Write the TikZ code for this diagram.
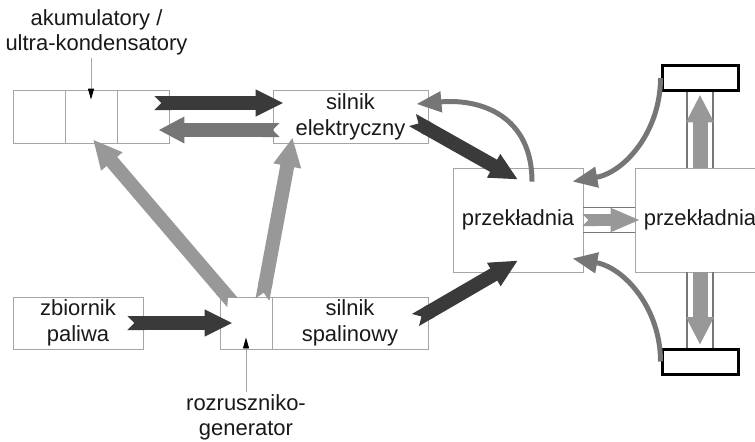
\documentclass[tikz,border=0pt]{standalone}
\usepackage{fontspec}
\setmainfont{Liberation Sans}
\usetikzlibrary{arrows.meta}

\definecolor{hvdark}{RGB}{58, 58, 58}
\definecolor{hvmid}{RGB}{118, 118, 118}
\definecolor{hvlight}{RGB}{152, 152, 152}
\definecolor{hvframe}{RGB}{165, 165, 165}
\definecolor{hvtext}{RGB}{25, 25, 25}

\begin{document}
\begin{tikzpicture}[
  x=1cm,
  y=1cm,
  cell/.style={draw=hvframe, line width=0.5pt, minimum height=1.06cm, inner sep=0pt,
    font=\fontsize{12.5}{15}\selectfont, text=hvtext, align=center},
  wheel/.style={draw=black, line width=1.7pt, minimum width=1.52cm, minimum height=0.5cm, inner sep=0pt},
  caption/.style={font=\fontsize{12.5}{14.5}\selectfont, text=hvtext, align=center, inner sep=1pt},
  pointer/.style={draw=hvframe, line width=0.5pt, -{Triangle[width=0.12cm, length=0.22cm, color=black]}},
  axle/.style={draw=hvmid, line width=0.8pt},
  fatdark/.style={draw=hvdark, line width=0.28cm, {Triangle Cap[reversed]}-{Triangle[width=0.5cm, length=0.56cm]}},
  fatmid/.style={draw=hvmid, line width=0.28cm, {Triangle Cap[reversed]}-{Triangle[width=0.5cm, length=0.52cm]}},
  fatlight/.style={draw=hvlight, line width=0.28cm, {Triangle Cap[reversed]}-{Triangle[width=0.52cm, length=0.58cm]}},
  curvemid/.style={draw=hvmid, line width=0.1cm, -{Triangle[width=0.4cm, length=0.5cm]}},
  shaftarrow/.style={draw=hvlight, line width=0.24cm, {Triangle Cap[reversed]}-{Triangle[width=0.44cm, length=0.6cm]}},
  axlearrow/.style={draw=hvlight, line width=0.3cm, -{Triangle[width=0.52cm, length=0.56cm]}}
]
  \useasboundingbox (0, 0) rectangle (15.1, 8.82);
  \clip (0, 0) rectangle (15.1, 8.82);

  % Storage and motors
  \node[cell, minimum width=1.04cm] (bat1) at (0.78, 6.49) {};
  \node[cell, minimum width=1.04cm] (bat2) at (1.82, 6.49) {};
  \node[cell, minimum width=1.04cm] (bat3) at (2.86, 6.49) {};
  \node[cell, minimum width=3.10cm] (elec) at (7.01, 6.49) {silnik\\elektryczny};

  \node[cell, minimum width=2.60cm, minimum height=1.04cm] (tank) at (1.56, 2.36) {zbiornik\\paliwa};
  \node[cell, minimum width=1.04cm, minimum height=1.04cm] (gen) at (4.92, 2.36) {};
  \node[cell, minimum width=3.12cm, minimum height=1.04cm] (ice) at (7.00, 2.36) {silnik\\spalinowy};

  % Gearboxes and wheels
  \node[cell, minimum width=2.60cm, minimum height=2.08cm] (gear1) at (10.36, 4.42) {przekładnia};
  \node[cell, minimum width=2.60cm, minimum height=2.08cm] (gear2) at (14.00, 4.42) {przekładnia};
  \node[wheel] (wheelT) at (14.00, 7.26) {};
  \node[wheel] (wheelB) at (14.00, 1.59) {};

  \draw[axle] ([yshift=0.25cm]gear1.east) -- ([yshift=0.25cm]gear2.west);
  \draw[axle] ([yshift=-0.25cm]gear1.east) -- ([yshift=-0.25cm]gear2.west);
  \draw[axle] ([xshift=-0.26cm]wheelT.south) -- ([xshift=-0.26cm]gear2.north);
  \draw[axle] ([xshift=0.26cm]wheelT.south) -- ([xshift=0.26cm]gear2.north);
  \draw[axle] ([xshift=-0.26cm]wheelB.north) -- ([xshift=-0.26cm]gear2.south);
  \draw[axle] ([xshift=0.26cm]wheelB.north) -- ([xshift=0.26cm]gear2.south);

  % Captions
  \node[caption] (batlabel) at (1.93, 8.17) {akumulatory /\\ultra-kondensatory};
  \node[caption] (genlabel) at (4.92, 0.47) {rozruszniko-\\generator};
  \draw[pointer] (batlabel.south -| bat2) -- ([yshift=-0.2cm]bat2.north);
  \draw[pointer] (genlabel.north) -- ([yshift=0.24cm]gen.south);

  % Energy flows
  \draw[fatdark] ([xshift=-0.3cm, yshift=0.27cm]bat3.east) -- ([xshift=0.22cm, yshift=0.27cm]elec.west);
  \draw[fatmid] ([xshift=0.14cm, yshift=-0.27cm]elec.west) -- ([xshift=-0.22cm, yshift=-0.27cm]bat3.east);
  \draw[fatdark] ([xshift=-0.32cm]tank.east) -- ([xshift=0.26cm]gen.west);
  \draw[fatlight] ([xshift=0.26cm, yshift=-0.12cm]gen.north west) -- ([xshift=0.04cm, yshift=0.08cm]bat2.south);
  \draw[fatlight] ([xshift=-0.2cm, yshift=-0.06cm]gen.north east) -- ([xshift=0.4cm, yshift=0.12cm]elec.south west);
  \draw[fatdark] ([xshift=-0.32cm, yshift=-0.07cm]elec.east) -- ([yshift=-0.24cm]gear1.north);
  \draw[fatdark] ([xshift=-0.26cm, yshift=0.06cm]ice.east) -- ([yshift=0.24cm]gear1.south);
  \draw[curvemid] ([xshift=0.28cm, yshift=-0.28cm]gear1.north) to[out=90, in=5, looseness=1.2] ([xshift=-0.24cm, yshift=0.25cm]elec.east);

  % Drive to the wheels
  \draw[shaftarrow] ([xshift=-0.02cm]gear1.east) -- ([xshift=0.12cm]gear2.west);
  \draw[axlearrow] (gear2.north) -- ([yshift=-0.05cm]wheelT.south);
  \draw[axlearrow] (gear2.south) -- ([yshift=0.05cm]wheelB.north);
  \draw[curvemid] (wheelT.west) to[out=-90, in=10] ([xshift=-0.22cm, yshift=-0.28cm]gear1.north east);
  \draw[curvemid] (wheelB.west) to[out=90, in=-10] ([xshift=-0.22cm, yshift=0.28cm]gear1.south east);

\end{tikzpicture}
\end{document}
